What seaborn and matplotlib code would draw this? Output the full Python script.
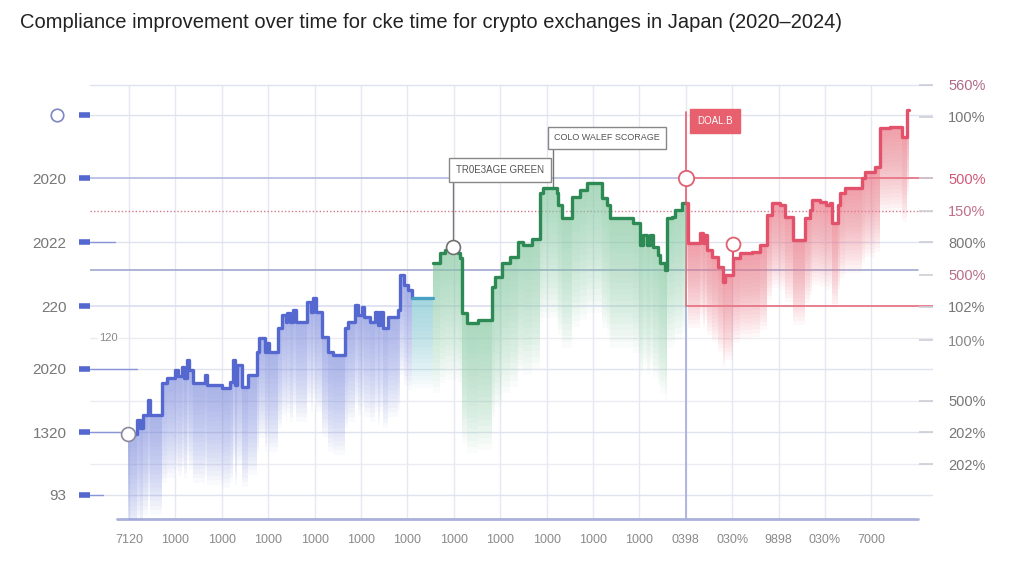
import numpy as np
import pandas as pd
import matplotlib
matplotlib.use("Agg")
import matplotlib.pyplot as plt
import seaborn as sns

# ---------------- data (day index, compliance score) ----------------
blue_x = [0, 9, 12, 15, 20, 22, 34, 39, 47, 50, 54, 56, 59, 61, 65, 77, 79, 94, 102, 105,
          107, 109, 114, 120, 129, 131, 137, 139, 141, 150, 154, 158, 159, 162, 165, 168,
          179, 183, 185, 188, 194, 200, 205, 217, 220, 227, 230, 234, 236, 242, 247, 250,
          252, 255, 260, 270, 272, 276, 280, 284]
blue_y = [86, 100, 92, 105, 120, 105, 137, 142, 150, 144, 153, 142, 160, 150, 137, 145, 135,
          132, 138, 160, 135, 155, 133, 145, 168, 182, 168, 177, 168, 192, 205, 198, 207, 198,
          210, 198, 218, 208, 222, 208, 183, 168, 165, 192, 198, 215, 205, 213, 203, 198, 208,
          195, 208, 192, 203, 210, 245, 235, 230, 222]
teal_x = [284, 305]
teal_y = [222, 222]
green_x = [305, 312, 317, 330, 332, 334, 339, 350, 364, 367, 374, 382, 390, 395, 404, 412,
           415, 429, 430, 434, 444, 452, 459, 474, 479, 482, 505, 512, 515, 519, 522, 525,
           530, 532, 537, 539, 544, 547, 554, 558]
green_y = [257, 267, 270, 267, 262, 207, 197, 200, 233, 243, 257, 263, 278, 275, 281, 327,
           332, 327, 315, 302, 323, 330, 337, 322, 315, 302, 297, 275, 285, 275, 285, 273,
           265, 257, 250, 302, 303, 310, 317, 317]
red_x = [558, 560, 572, 575, 577, 579, 584, 590, 595, 597, 605, 612, 624, 632, 639, 644, 652,
         657, 665, 677, 682, 684, 692, 698, 702, 704, 710, 712, 717, 734, 737, 747, 752, 762,
         774, 779, 781]
red_y = [317, 277, 287, 277, 285, 270, 263, 253, 238, 245, 262, 267, 268, 275, 305, 317, 315,
         303, 280, 302, 310, 320, 318, 315, 317, 297, 315, 327, 332, 342, 348, 353, 392, 393,
         383, 410, 410]

left_ticks = [25, 88, 151, 214, 278, 342, 405]
left_labels = ["93", "1320", "2020", "220", "2022", "2020", ""]
right_ticks = [435, 403, 342, 309, 278, 245, 213, 180, 119, 88, 56]
right_labels = ["560%", "100%", "500%", "150%", "800%", "500%", "102%", "100%", "500%", "202%", "202%"]
right_colors = ["#b06a86", "#777777", "#d05a78", "#c0708a", "#777777", "#b87088",
                "#777777", "#888888", "#777777", "#777777", "#777777"]
x_ticks = [1 + 46.4 * i for i in range(17)]
x_labels = ["7120"] + ["1000"] * 11 + ["0398", "030%", "9898", "030%", "7000"]

title = "Compliance improvement over time for cke time for crypto exchanges in Japan (2020\u20132024)"
note_green = "TR0E3AGE GREEN"
note_cold = "COLO WALEF SCORAGE"
note_red = "DOAL.B"

# ---------------- style ----------------
sns.set_theme(style="white")
plt.rcParams["font.family"] = ["Liberation Sans", "DejaVu Sans"]

BLUE, BLUE_F = "#5468cf", "#8190e2"
TEAL, TEAL_F = "#4a9fc4", "#7cc8d2"
GREEN, GREEN_F = "#2e8a55", "#8fd0ab"
RED, RED_F = "#e2526a", "#f07d8e"

fig = plt.figure(figsize=(10.24, 5.74), dpi=100)
fig.patch.set_facecolor("white")
W, H = 1024, 574
ax = fig.add_axes([90 / W, 1 - 519 / H, (933 - 90) / W, (519 - 75) / H])
ax.set_xlim(-38, 805)
ax.set_ylim(1, 445)
for s in ax.spines.values():
    s.set_visible(False)

# grid
for xt in x_ticks:
    ax.plot([xt, xt], [1, 435], color="#e6e8f2", lw=1, zorder=0)
for yv in [435, 405, 278, 151, 88, 25]:
    ax.axhline(yv, color="#e0e2ef", lw=1, zorder=0)
for yv in [182, 119, 56]:
    ax.axhline(yv, color="#ebebf1", lw=1, zorder=0)
ax.plot([-38, 558], [342, 342], color="#b4b9e0", lw=1.2, zorder=1)
ax.plot([558, 805], [342, 342], color="#e46a7c", lw=1.2, zorder=1)
ax.plot([-38, 558], [214, 214], color="#d8dbef", lw=1.1, zorder=1)
ax.plot([558, 805], [214, 214], color="#e46a7c", lw=1.2, zorder=1)
ax.axhline(309, color="#d27a8c", lw=1, ls=(0, (1, 1.5)), zorder=1)
ax.plot([-38, 790], [250, 250], color="#a2a8cf", lw=1.2, zorder=1)
# left extensions
for yv, x1 in [(278, -13), (151, 9), (88, 0), (25, -25)]:
    ax.plot([-38, x1], [yv, yv], color="#8a94d8", lw=1, zorder=1)
# vertical separator
ax.plot([558, 558], [1, 214], color="#aab0e0", lw=1.3, zorder=1)
ax.plot([558, 558], [214, 408], color="#e46a7c", lw=1.3, zorder=1)
# x axis line
ax.plot([-11, 790], [1, 1], color="#a9b0dc", lw=2, clip_on=False, zorder=2)


def grad_fill(xs, ys, color, depth, a=0.045, n=22):
    xs = np.asarray(xs, float)
    ys = np.asarray(ys, float)
    for k in range(n):
        f1 = (k + 1) / n
        ax.fill_between(xs, ys - depth * f1, ys, step="post",
                        color=color, alpha=a, lw=0, zorder=2)


grad_fill(blue_x, blue_y, BLUE_F, 100)
grad_fill(teal_x, teal_y, TEAL_F, 90)
grad_fill(green_x, green_y, GREEN_F, 130, a=0.05)
grad_fill(red_x, red_y, RED_F, 85, a=0.05)

for xs, ys, c in [(blue_x, blue_y, BLUE), (teal_x, teal_y, TEAL),
                  (green_x, green_y, GREEN), (red_x, red_y, RED)]:
    df = pd.DataFrame({"day": xs, "score": ys})
    sns.lineplot(data=df, x="day", y="score", drawstyle="steps-post", color=c,
                 lw=2.4, ax=ax, sort=False, estimator=None, zorder=4)
ax.set_xlabel("")
ax.set_ylabel("")

# annotations
ax.plot([0], [86], "o", ms=10, mfc="white", mec="#8a8a9a", mew=1.2, zorder=6)
ax.plot([325, 325], [273, 337], color="#777777", lw=1, zorder=3)
ax.plot([325], [273], "o", ms=10, mfc="white", mec="#707070", mew=1.2, zorder=6)
ax.text(372, 350, note_green, fontsize=7, color="#555555", ha="center", va="center",
        zorder=7, bbox=dict(boxstyle="square,pad=0.7", fc="white", ec="#888888", lw=1))
ax.plot([425, 425], [332, 372], color="#777777", lw=1, zorder=3)
ax.text(479, 382, note_cold, fontsize=6.5, color="#555555", ha="center", va="center",
        zorder=7, bbox=dict(boxstyle="square,pad=0.7", fc="white", ec="#888888", lw=1))
ax.text(587, 399, note_red, fontsize=7, color="white", ha="center", va="center",
        zorder=7, bbox=dict(boxstyle="square,pad=0.7", fc="#e8606e", ec="#e8606e", lw=1))
ax.plot([558], [342], "o", ms=11, mfc="white", mec="#e06070", mew=1.3, zorder=6)
ax.plot([605, 605], [262, 276], color=RED, lw=1.5, zorder=5)
ax.plot([605], [276], "o", ms=10, mfc="white", mec="#e06070", mew=1.3, zorder=6)
ax.text(-20, 182, "120", fontsize=8, color="#888888", ha="center", va="center",
        zorder=6, bbox=dict(boxstyle="square,pad=0.1", fc="white", ec="none"))
ax.plot([-71], [405], "o", ms=9, mfc="white", mec="#7f86c0", mew=1.2, clip_on=False, zorder=6)

# ticks
ax.set_yticks(left_ticks)
ax.set_yticklabels(left_labels)
ax.tick_params(axis="y", length=8, width=4, color="#5468cf", labelsize=11,
               labelcolor="#777777", pad=9)
ax.set_xticks(x_ticks)
ax.set_xticklabels(x_labels)
ax.tick_params(axis="x", length=0, labelsize=9, labelcolor="#8a8a8a", pad=11)

ax2 = ax.twinx()
ax2.set_ylim(ax.get_ylim())
for s in ax2.spines.values():
    s.set_visible(False)
ax2.set_yticks(right_ticks)
ax2.set_yticklabels(right_labels)
ax2.tick_params(axis="y", direction="in", length=10, width=1.2, color="#cdcdd6",
                labelsize=10.5, pad=11)
for lab, c in zip(ax2.get_yticklabels(), right_colors):
    lab.set_color(c)
ax2.grid(False)
ax.grid(False)

fig.text(20 / W, 1 - 22 / H, title, fontsize=14.5, color="#222222", ha="left", va="center")

fig.savefig("out.png", dpi=100, facecolor="white")
